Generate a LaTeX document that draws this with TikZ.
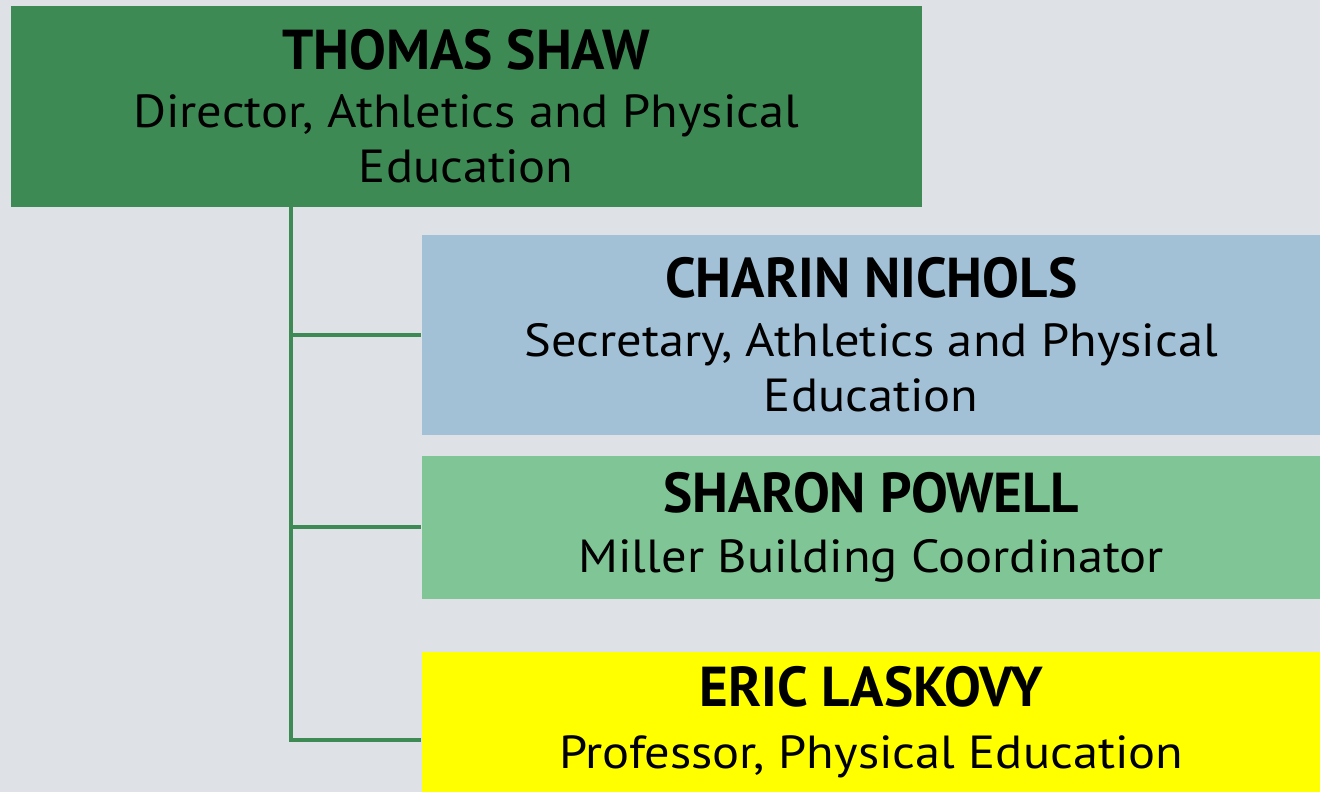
\documentclass[tikz,border=0pt]{standalone}
\usepackage{fontspec}
\setmainfont{PT Sans}[FakeStretch=1.088]
\newfontfamily\namefont{PT Sans}[FakeStretch=0.98]
\usetikzlibrary{positioning}
\definecolor{pagegray}{HTML}{DEE2E6}
\definecolor{leadgreen}{HTML}{3E8A55}
\definecolor{staffblue}{HTML}{A2C1D6}
\definecolor{staffgreen}{HTML}{7FC595}
\definecolor{staffyellow}{HTML}{FFFF00}
\newcommand{\personname}[1]{{\namefont\fontsize{16}{19}\selectfont\bfseries #1}}
\tikzset{
    card/.style={anchor=north west, inner sep=0pt, align=center,
        font=\fontsize{13.2}{15.65}\selectfont, text=black},
    link/.style={draw=leadgreen, line width=1.15pt},
}

\begin{document}
\begin{tikzpicture}
    \useasboundingbox[fill=pagegray] (0,0) rectangle (13.2,-7.92);
    \node[card, fill=leadgreen, minimum width=9.11cm, minimum height=2.01cm] (director) at (0.10,-0.05)
        {\personname{THOMAS SHAW}\\[1.1pt]Director, Athletics and Physical\\Education};
    \node[card, fill=staffblue, minimum width=8.99cm, minimum height=2.00cm] (secretary) at (4.21,-2.34)
        {\personname{CHARIN NICHOLS}\\[1.1pt]Secretary, Athletics and Physical\\Education};
    \node[card, fill=staffgreen, minimum width=8.99cm, minimum height=1.43cm] (coordinator) at (4.21,-4.55)
        {\personname{SHARON POWELL}\\[1.3pt]Miller Building Coordinator};
    \node[card, fill=staffyellow, minimum width=8.99cm, minimum height=1.41cm] (professor) at (4.21,-6.51)
        {\personname{ERIC LASKOVY}\\[1.8pt]Professor, Physical Education};
    % reporting lines
    \draw[link] (director.south west) ++(2.81,0) coordinate (trunk) |- ([yshift=-1.8mm]professor.west);
    \draw[link] (trunk |- secretary.west) -- (secretary.west);
    \draw[link] (trunk |- coordinator.west) -- (coordinator.west);
\end{tikzpicture}
\end{document}
